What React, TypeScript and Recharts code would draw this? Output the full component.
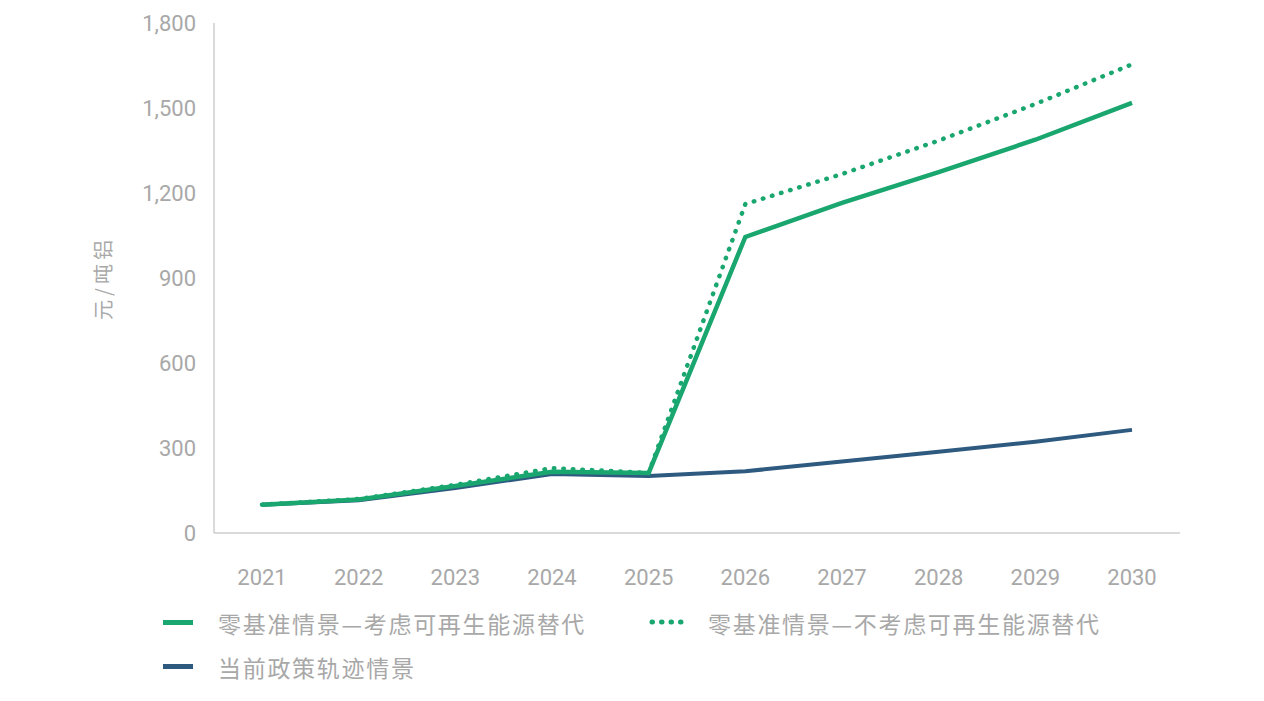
import React from 'react';
import { CartesianGrid, Line, LineChart, XAxis, YAxis } from 'recharts';

// 年份与三条情景曲线（元/吨铝）
const YEARS = ['2021', '2022', '2023', '2024', '2025', '2026', '2027', '2028', '2029', '2030'];
const ZERO_WITH_RENEWABLE = [100, 118, 166, 216, 212, 1045, 1165, 1274, 1388, 1518];
const ZERO_WITHOUT_RENEWABLE = [100, 120, 170, 229, 212, 1161, 1267, 1385, 1514, 1654];
const CURRENT_POLICY = [100, 116, 159, 208, 201, 218, 252, 287, 322, 364];
const Y_TICKS = [0, 300, 600, 900, 1200, 1500, 1800];

const GREEN = '#1aa66f';
const BLUE = '#2e5a80';
const GREY = '#a8a8a8';
const AXIS = '#b5b5b5';

const data = YEARS.map((year, i) => ({
  year,
  withRenewable: ZERO_WITH_RENEWABLE[i],
  withoutRenewable: ZERO_WITHOUT_RENEWABLE[i],
  current: CURRENT_POLICY[i],
}));

const tickFont = { fontFamily: 'Roboto, "Noto Sans", sans-serif', fontSize: 22, fill: GREY };
const legendText: React.CSSProperties = {
  position: 'absolute',
  fontFamily: '"Noto Sans CJK SC", sans-serif',
  fontSize: 23,
  letterSpacing: 1.7,
  color: GREY,
  lineHeight: '24px',
  whiteSpace: 'nowrap',
};

export default function App() {
  return (
    <div style={{ position: 'absolute', left: 0, top: 0, width: 1264, height: 701, background: '#fff' }}>
      <LineChart width={1264} height={701} data={data} margin={{ top: 23, right: 84, bottom: 108, left: 154 }}>
        <CartesianGrid stroke="none" />
        <XAxis
          dataKey="year"
          height={60}
          padding={{ left: 48, right: 48 }}
          stroke={AXIS}
          tickLine={false}
          tickMargin={30}
          tick={tickFont}
        />
        <YAxis
          width={60}
          domain={[0, 1800]}
          ticks={Y_TICKS}
          stroke={AXIS}
          tickLine={false}
          tickMargin={12}
          tick={tickFont}
          tickFormatter={(v: number) => v.toLocaleString('en-US')}
        />
        <Line dataKey="current" stroke={BLUE} strokeWidth={4} dot={false} isAnimationActive={false} />
        <Line dataKey="withRenewable" stroke={GREEN} strokeWidth={4.5} dot={false} isAnimationActive={false} />
        <Line
          dataKey="withoutRenewable"
          stroke={GREEN}
          strokeWidth={4.5}
          strokeDasharray="0.5 9"
          strokeLinecap="round"
          dot={false}
          isAnimationActive={false}
        />
      </LineChart>

      <div
        style={{
          ...legendText,
          left: 103,
          top: 278,
          fontSize: 20,
          letterSpacing: 4,
          transform: 'translate(-50%, -50%) rotate(-90deg)',
        }}
      >
        元/吨铝
      </div>

      <div style={{ position: 'absolute', left: 163, top: 620, width: 30, height: 5, background: GREEN }} />
      <div style={{ ...legendText, left: 218, top: 611 }}>零基准情景—考虑可再生能源替代</div>

      <svg style={{ position: 'absolute', left: 646, top: 616 }} width={44} height={12}>
        <line x1={6} y1={6} x2={40} y2={6} stroke={GREEN} strokeWidth={5} strokeDasharray="0.5 9" strokeLinecap="round" />
      </svg>
      <div style={{ ...legendText, left: 708, top: 611 }}>零基准情景—不考虑可再生能源替代</div>

      <div style={{ position: 'absolute', left: 163, top: 664, width: 30, height: 5, background: BLUE }} />
      <div style={{ ...legendText, left: 218, top: 655 }}>当前政策轨迹情景</div>
    </div>
  );
}
